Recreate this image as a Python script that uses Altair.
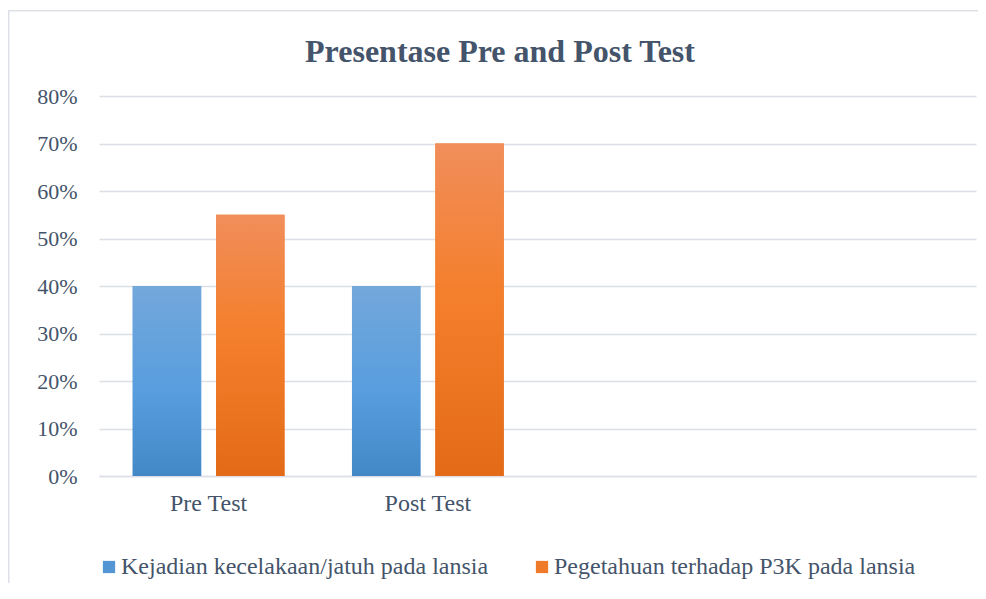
import altair as alt
import pandas as pd

categories = ["Pre Test", "Post Test"]
empty_slots = ["_c3", "_c4"]
series_names = ["Kejadian kecelakaan/jatuh pada lansia", "Pegetahuan terhadap P3K pada lansia"]
kejadian = [0.40, 0.40]
pengetahuan = [0.55, 0.70]
y_ticks = [0, 0.1, 0.2, 0.3, 0.4, 0.5, 0.6, 0.7, 0.8]
title_text = "Presentase Pre and Post Test"

rows = []
for i, c in enumerate(categories):
    rows.append({"cat": c, "series": series_names[0], "value": kejadian[i]})
    rows.append({"cat": c, "series": series_names[1], "value": pengetahuan[i]})
df = pd.DataFrame(rows)

FONT = "Liberation Serif"
TXT = "#44546A"
GRID = "#DCE0E6"
FRAME = "#DDE1E7"

W, H = 877, 380

x_enc = alt.X("cat:N", scale=alt.Scale(domain=categories + empty_slots, paddingInner=0.3077, paddingOuter=0.1538),
              sort=None,
              axis=alt.Axis(title=None, labelExpr="indexof(['Pre Test','Post Test'], datum.value) >= 0 ? datum.value : ''",
                            labelFont=FONT, labelFontSize=24, labelColor=TXT, labelPadding=15,
                            ticks=False, domainColor=GRID, domainWidth=1.5, grid=False, labelAngle=0))
xo_enc = alt.XOffset("series:N", scale=alt.Scale(domain=series_names, paddingInner=0.1786, paddingOuter=0))
y_enc = alt.Y("value:Q", scale=alt.Scale(domain=[0, 0.8], nice=False),
              axis=alt.Axis(title=None, format=".0%", values=y_ticks, labelFont=FONT, labelFontSize=22,
                            labelColor=TXT, labelPadding=22, ticks=False, tickSize=0, domain=False,
                            gridColor=GRID, gridWidth=1.5))

base = alt.Chart(df).mark_bar().encode(
    x=x_enc, xOffset=xo_enc, y=y_enc,
    color=alt.Color("series:N", scale=alt.Scale(domain=series_names, range=["#5495D4", "#EE7A2A"]),
                    legend=alt.Legend(title=None, orient="none", direction="horizontal", legendX=-2, legendY=459,
                                      symbolType="square", symbolSize=150, symbolStrokeWidth=0,
                                      labelFont=FONT, labelFontSize=24, labelColor=TXT, labelLimit=600,
                                      labelOffset=0, columnPadding=41, padding=0)),
)

blue_grad = alt.Gradient(gradient="linear", x1=0, x2=0, y1=0, y2=1, stops=[
    alt.GradientStop(color="#73A8DB", offset=0),
    alt.GradientStop(color="#589DDE", offset=0.55),
    alt.GradientStop(color="#4388C6", offset=1)])
orange_grad = alt.Gradient(gradient="linear", x1=0, x2=0, y1=0, y2=1, stops=[
    alt.GradientStop(color="#F18E5B", offset=0),
    alt.GradientStop(color="#F47F2C", offset=0.45),
    alt.GradientStop(color="#E36B17", offset=1)])

over_blue = alt.Chart(df).transform_filter(alt.datum.series == series_names[0]).mark_bar(color=blue_grad).encode(
    x=x_enc, xOffset=xo_enc, y=y_enc)
over_orange = alt.Chart(df).transform_filter(alt.datum.series == series_names[1]).mark_bar(color=orange_grad).encode(
    x=x_enc, xOffset=xo_enc, y=y_enc)

frame_data = alt.Data(values=[{"t": title_text}])
frame_left = alt.Chart(frame_data).mark_rect(color=FRAME, strokeWidth=0).encode(
    x=alt.value(-91), x2=alt.value(-89.5), y=alt.value(-86), y2=alt.value(H + 120))
frame_top = alt.Chart(frame_data).mark_rect(color=FRAME, strokeWidth=0).encode(
    x=alt.value(-91), x2=alt.value(W + 2), y=alt.value(-86), y2=alt.value(-84.5))
title_mark = alt.Chart(frame_data).mark_text(font=FONT, fontSize=32, fontWeight="bold", color=TXT,
                                             align="center", baseline="middle").encode(
    text="t:N", x=alt.value(401), y=alt.value(-44))

chart = alt.layer(frame_left, frame_top, base, over_blue, over_orange, title_mark).properties(
    width=W, height=H,
    autosize=alt.AutoSizeParams(type="none"),
    padding={"left": 91, "top": 88, "right": 2, "bottom": 107},
).configure_view(stroke="transparent", strokeWidth=0).configure_legend(labelFont=FONT, labelFontSize=24, labelColor=TXT)

chart.save("out.html", embed_options={"renderer": "svg", "actions": False})
